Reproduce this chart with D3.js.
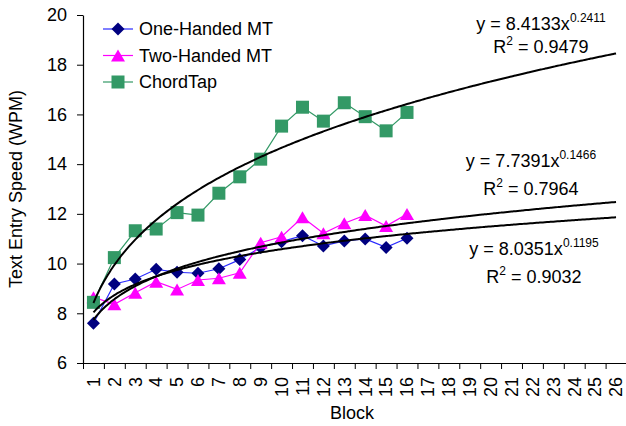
<!DOCTYPE html>
<html>
<head>
<meta charset="utf-8">
<script src="https://cdn.jsdelivr.net/npm/d3@7"></script>
<style>
  body { margin: 0; background: #fff; }
  svg text { font-family: "Liberation Sans", Arial, sans-serif; fill: #000; }
</style>
</head>
<body>
<div id="chart"></div>
<script>
const blockLabels = [1, 2, 3, 4, 5, 6, 7, 8, 9, 10, 11, 12, 13, 14, 15, 16, 17, 18, 19, 20, 21, 22, 23, 24, 25, 26];
const blocks = [1, 2, 3, 4, 5, 6, 7, 8, 9, 10, 11, 12, 13, 14, 15, 16];
const yTicks = [6, 8, 10, 12, 14, 16, 18, 20];

const oneHanded = [7.60, 9.18, 9.38, 9.77, 9.65, 9.61, 9.79, 10.16, 10.65, 10.88, 11.12, 10.71, 10.91, 10.99, 10.65, 11.02];
const twoHanded = [8.65, 8.36, 8.83, 9.27, 8.96, 9.34, 9.41, 9.63, 10.84, 11.08, 11.86, 11.22, 11.62, 11.95, 11.51, 11.99];
const chordTap = [8.44, 10.24, 11.32, 11.39, 12.05, 11.95, 12.83, 13.49, 14.20, 15.53, 16.29, 15.73, 16.47, 15.91, 15.34, 16.08];

// power trendlines y = a * x^b, as printed on the chart
const fitA = [8.4133, 7.7391, 8.0351];
const fitB = [0.2411, 0.1466, 0.1195];
const fitR2 = ["0.9479", "0.7964", "0.9032"];

const series = [
  { name: "One-Handed MT", values: oneHanded, line: "#2b2bff", fill: "#000080", shape: "diamond" },
  { name: "Two-Handed MT", values: twoHanded, line: "#ff00ff", fill: "#ff00ff", shape: "triangle" },
  { name: "ChordTap", values: chordTap, line: "#339966", fill: "#339966", shape: "square" }
];

const W = 626, H = 426;
const plotLeft = 83, plotRight = 626.5, plotTop = 15, plotBottom = 363;

const svg = d3.select("#chart").append("svg")
  .attr("width", W).attr("height", H);

const x = d3.scaleBand().domain(blockLabels).range([plotLeft, plotRight]).padding(0);
const xLin = d3.scaleLinear().domain([0.5, 26.5]).range([plotLeft, plotRight]);
const y = d3.scaleLinear().domain([6, 20]).range([plotBottom, plotTop]);

// y axis
const yAxis = svg.append("g")
  .attr("transform", `translate(${plotLeft},0)`)
  .call(d3.axisLeft(y).tickValues(yTicks).tickSize(6).tickPadding(10).tickSizeOuter(0));
yAxis.selectAll("text").style("font-size", "18px");
yAxis.select(".domain").attr("stroke-width", 1.2);

// x axis labels (band centres), ticks at band edges
const xAxis = svg.append("g")
  .attr("transform", `translate(0,${plotBottom})`)
  .call(d3.axisBottom(x).tickSize(0).tickSizeOuter(0));
xAxis.select(".domain").attr("stroke-width", 1.2);
xAxis.selectAll("text")
  .attr("y", 0)
  .attr("x", -14)
  .attr("dy", "0.35em")
  .attr("transform", "rotate(-90)")
  .style("text-anchor", "end")
  .style("font-size", "18px");

svg.append("g")
  .attr("transform", `translate(0,${plotBottom})`)
  .call(d3.axisBottom(xLin).tickValues(blockLabels.map(d => d - 0.5).concat([26.5])).tickSize(6).tickFormat(""))
  .select(".domain").remove();

// axis titles
svg.append("text")
  .attr("transform", `translate(22,${(plotTop + plotBottom) / 2}) rotate(-90)`)
  .attr("text-anchor", "middle")
  .style("font-size", "18px")
  .text("Text Entry Speed (WPM)");

svg.append("text")
  .attr("x", 352).attr("y", 419)
  .attr("text-anchor", "middle")
  .style("font-size", "18px")
  .text("Block");

function marker(sel, shape, fill) {
  if (shape === "diamond") {
    sel.append("path").attr("d", "M0,-6.5L6.5,0L0,6.5L-6.5,0Z").attr("fill", fill);
  } else if (shape === "triangle") {
    sel.append("path").attr("d", "M0,-6L7,6L-7,6Z").attr("fill", fill);
  } else {
    sel.append("rect").attr("x", -6.5).attr("y", -6.5).attr("width", 13).attr("height", 13).attr("fill", fill);
  }
}

const line = d3.line()
  .x((d, i) => x(blocks[i]) + x.bandwidth() / 2)
  .y(d => y(d));

series.forEach(s => {
  const g = svg.append("g");
  g.append("path")
    .attr("d", line(s.values))
    .attr("fill", "none")
    .attr("stroke", s.line)
    .attr("stroke-width", 1.2);
  g.selectAll("g.pt")
    .data(s.values)
    .enter().append("g")
    .attr("class", "pt")
    .attr("transform", (d, i) => `translate(${x(blocks[i]) + x.bandwidth() / 2},${y(d)})`)
    .each(function () { marker(d3.select(this), s.shape, s.fill); });
});

// trendlines
const xs = d3.range(1, 26.001, 0.1);
const curve = d3.line().x(d => xLin(d[0])).y(d => y(d[1])).curve(d3.curveMonotoneX);
fitA.forEach((a, k) => {
  svg.append("path")
    .attr("d", curve(xs.map(v => [v, a * Math.pow(v, fitB[k])])))
    .attr("fill", "none")
    .attr("stroke", "#000")
    .attr("stroke-width", 2);
});

// trendline labels
const labelPos = [
  { cx: 541, y1: 30, y2: 53 },
  { cx: 531, y1: 167, y2: 195 },
  { cx: 534, y1: 255, y2: 283 }
];
labelPos.forEach((p, k) => {
  const t1 = svg.append("text")
    .attr("x", p.cx).attr("y", p.y1)
    .attr("text-anchor", "middle")
    .style("font-size", "18px");
  t1.append("tspan").text(`y = ${fitA[k].toFixed(4)}x`);
  t1.append("tspan").attr("dy", -8).style("font-size", "12px").text(fitB[k].toFixed(4));

  const t2 = svg.append("text")
    .attr("x", p.cx).attr("y", p.y2)
    .attr("text-anchor", "middle")
    .style("font-size", "18px");
  t2.append("tspan").text("R");
  t2.append("tspan").attr("dy", -8).style("font-size", "12px").text("2");
  t2.append("tspan").attr("dy", 8).text(` = ${fitR2[k]}`);
});

// legend
const legend = svg.append("g").attr("transform", "translate(103,29)");
series.forEach((s, i) => {
  const row = legend.append("g").attr("transform", `translate(0,${i * 26.5})`);
  row.append("line")
    .attr("x1", 0).attr("x2", 30)
    .attr("stroke", s.line).attr("stroke-width", 1.2);
  const m = row.append("g").attr("transform", "translate(15,0)");
  marker(m, s.shape, s.fill);
  row.append("text")
    .attr("x", 36).attr("dy", "0.35em")
    .style("font-size", "18px")
    .text(s.name);
});
</script>
</body>
</html>
